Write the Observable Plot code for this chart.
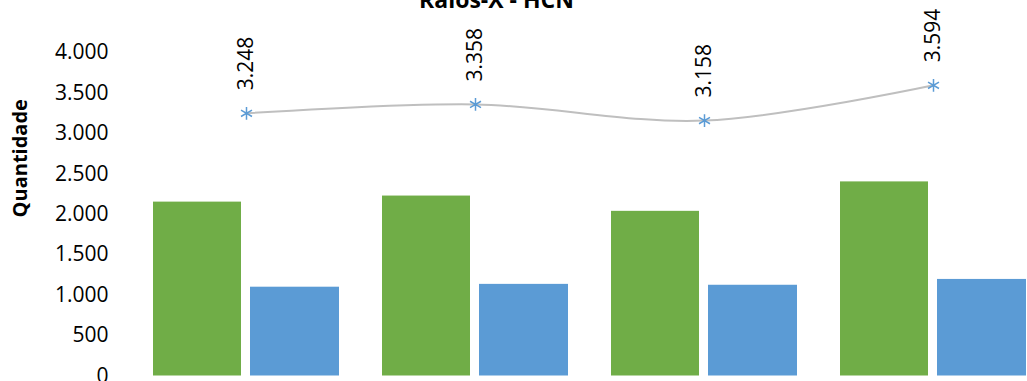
<!DOCTYPE html>
<html>
<head>
<meta charset="utf-8">
<script src="https://cdn.jsdelivr.net/npm/d3@7"></script>
<script src="https://cdn.jsdelivr.net/npm/@observablehq/plot@0.6"></script>
<style>
  html, body { margin: 0; padding: 0; background: #fff; overflow: hidden; }
  #wrap { width: 1027px; height: 381px; overflow: hidden; position: relative; }
  #wrap svg { max-width: none !important; display: block; }
</style>
</head>
<body>
<div id="wrap"></div>
<script>
const title = "Raios-X - HCN";
const yLabel = "Quantidade";
const categories = ["A", "B", "C", "D"];
const greenValues = [2150, 2225, 2036, 2400];
const blueValues = [1098, 1133, 1122, 1194];
const totalValues = [3248, 3358, 3158, 3594];
const yTicks = [0, 500, 1000, 1500, 2000, 2500, 3000, 3500, 4000];

const ptBR = d3.formatLocale({decimal: ",", thousands: ".", grouping: [3], currency: ["R$", ""]});
const fmt = ptBR.format(",d");

const green = categories.map((c, i) => ({cat: c, value: greenValues[i]}));
const blue = categories.map((c, i) => ({cat: c, value: blueValues[i]}));
const total = categories.map((c, i) => ({cat: c, value: totalValues[i]}));

const font = "'Open Sans', 'DejaVu Sans', sans-serif";

const chart = Plot.plot({
  width: 1048,
  height: 381,
  marginLeft: 131,
  marginRight: 0,
  marginTop: 52,
  marginBottom: 5.5,
  style: {fontFamily: font, fontSize: "21px", color: "#000", background: "#fff", overflow: "hidden"},
  x: {domain: categories, paddingInner: 0.188, paddingOuter: 0.094, axis: null},
  y: {domain: [0, 4000], ticks: yTicks, tickFormat: fmt},
  marks: [
    Plot.axisY({ticks: yTicks, tickFormat: fmt, tickSize: 0, tickPadding: 23, label: null, fontSize: 21, fill: "#000"}),
    Plot.barY(green, {x: "cat", y: "value", fill: "#70ad47", insetRight: 98}),
    Plot.barY(blue, {x: "cat", y: "value", fill: "#5b9bd5", insetLeft: 97}),
    Plot.line(total, {x: "cat", y: "value", stroke: "#bfbfbf", strokeWidth: 2, curve: "catmull-rom"}),
    Plot.dot(total, {x: "cat", y: "value", symbol: "asterisk", r: 6, stroke: "#5b9bd5", strokeWidth: 1.5}),
    Plot.text(total, {x: "cat", y: "value", text: d => fmt(d.value), rotate: -90, textAnchor: "start", lineAnchor: "middle", dy: -23, fontSize: 21, fill: "#000"}),
    Plot.text([yLabel], {frameAnchor: "left", text: d => d, rotate: -90, textAnchor: "middle", lineAnchor: "middle", dx: -111, dy: -56, fontWeight: "bold", fontSize: 20, fill: "#000"}),
    Plot.text([title], {frameAnchor: "top-left", text: d => d, dx: 365, dy: -45, textAnchor: "middle", lineAnchor: "bottom", fontWeight: "bold", fontSize: "23px", fill: "#000"})
  ]
});
document.getElementById("wrap").appendChild(chart);
</script>
</body>
</html>
